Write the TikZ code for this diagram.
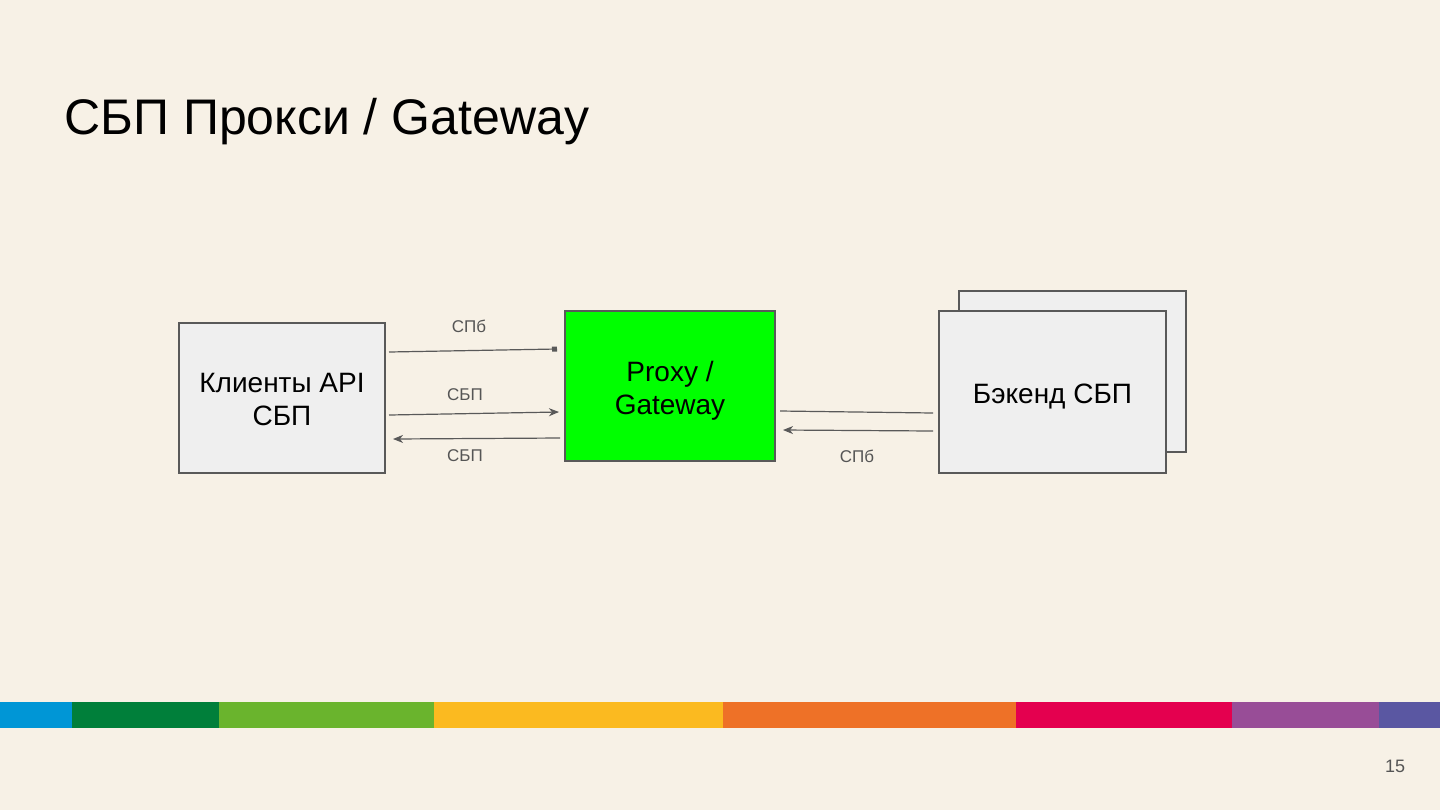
\documentclass[tikz,border=0pt]{standalone}
\usepackage{fontspec}
\setmainfont{Liberation Sans}
\usetikzlibrary{arrows.meta}
\definecolor{bg}{HTML}{F7F1E6}
\definecolor{boxfill}{HTML}{EFEFEF}
\definecolor{edge}{HTML}{595959}
\definecolor{lbl}{HTML}{555555}
\definecolor{cA}{HTML}{0096D6}
\definecolor{cB}{HTML}{007F3A}
\definecolor{cC}{HTML}{6AB42D}
\definecolor{cD}{HTML}{FBBA20}
\definecolor{cE}{HTML}{EE7127}
\definecolor{cF}{HTML}{E4004F}
\definecolor{cG}{HTML}{984D97}
\definecolor{cH}{HTML}{5A57A2}
\tikzset{
  box/.style={draw=edge, fill=boxfill, line width=0.7pt, anchor=north west, inner sep=0pt, outer sep=0pt},
  boxtext/.style={align=center, font=\fontsize{14}{16.5}\selectfont, yshift=-1.5pt},
  conn/.style={draw=edge, line width=0.6pt},
  arr/.style={conn, -{Stealth[length=5pt,width=4pt,inset=1.5pt]}},
  sqr/.style={conn, -{Square[length=2.5pt,width=2.5pt]}},
  lab/.style={font=\fontsize{8.5}{10}\selectfont, text=lbl, inner sep=0pt},
}
\begin{document}
\begin{tikzpicture}[x=0.5pt,y=-0.5pt]
\useasboundingbox (0,0) rectangle (1440,810);
\fill[bg] (0,0) rectangle (1440,810);
% colour bar
\fill[cA] (0,702) rectangle (72,728);
\fill[cB] (72,702) rectangle (219,728);
\fill[cC] (219,702) rectangle (434,728);
\fill[cD] (434,702) rectangle (723,728);
\fill[cE] (723,702) rectangle (1016,728);
\fill[cF] (1016,702) rectangle (1232,728);
\fill[cG] (1232,702) rectangle (1379,728);
\fill[cH] (1379,702) rectangle (1440,728);
% title
\node[anchor=base west, inner sep=0pt, font=\fontsize{25}{30}\selectfont] (title) at (64,134) {СБП Прокси / Gateway};
\node[anchor=center, inner sep=0pt, text=lbl, font=\fontsize{9}{11}\selectfont] (page) at (1395,766) {15};
% boxes
\node[box, minimum width=103pt, minimum height=75pt, label={[boxtext, yshift=1pt]center:Клиенты API\\СБП}] (cl) at (179,323) {};
\node[box, fill={rgb,255:red,0;green,255;blue,0}, minimum width=105pt, minimum height=75pt, label={[boxtext, yshift=-1pt]center:Proxy /\\Gateway}] (px) at (565,311) {};
\node[box, minimum width=113.5pt, minimum height=80.5pt] (bkback) at (959,291) {};
\node[box, minimum width=113.5pt, minimum height=81pt, label={[boxtext, yshift=-1pt]center:Бэкенд СБП}] (bk) at (939,311) {};
% connectors
\draw[sqr] ([shift={(4,29)}]cl.north east) -- ([shift={(-8,38)}]px.north west);
\draw[arr] ([shift={(4,92)}]cl.north east) -- ([shift={(-6,101)}]px.north west);
\draw[arr] ([shift={(-5,127)}]px.north west) -- ([shift={(8,116)}]cl.north east);
\draw[conn] ([shift={(5,100)}]px.north east) -- ([shift={(-6,102)}]bk.north west);
\draw[arr] ([shift={(-6,120)}]bk.north west) -- ([shift={(8,119)}]px.north east);
% labels
\node[lab] (l1) at (469,326) {СПб};
\node[lab] (l2) at (465,395) {СБП};
\node[lab] (l3) at (465,456) {СБП};
\node[lab] (l4) at (857,456) {СПб};
\end{tikzpicture}
\end{document}
